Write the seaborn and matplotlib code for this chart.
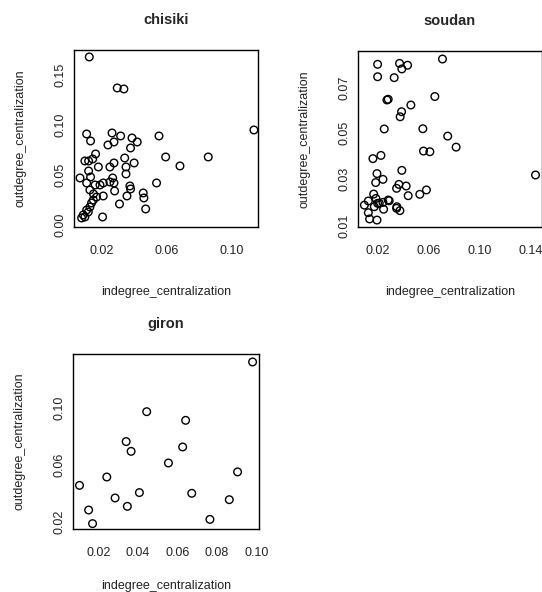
import numpy as np
import pandas as pd
import seaborn as sns
from matplotlib import pyplot as plt

# values
chisiki_x = [0.0124, 0.0296, 0.0337, 0.1137, 0.0108, 0.0132, 0.0264, 0.0317, 0.0276, 0.0239,
             0.0387, 0.0419, 0.0378, 0.0553, 0.0097, 0.0120, 0.0145, 0.0163, 0.0180, 0.0276,
             0.0251, 0.0342, 0.0350, 0.0350, 0.0400, 0.0594, 0.0682, 0.0856, 0.0067, 0.0120,
             0.0132, 0.0108, 0.0128, 0.0160, 0.0190, 0.0210, 0.0251, 0.0268, 0.0276, 0.0280,
             0.0210, 0.0150, 0.0374, 0.0378, 0.0356, 0.0310, 0.0456, 0.0460, 0.0471, 0.0538,
             0.0206, 0.0077, 0.0087, 0.0108, 0.0128, 0.0149, 0.0138, 0.0118, 0.0169, 0.0097]
chisiki_y = [0.168, 0.137, 0.136, 0.095, 0.091, 0.084, 0.092, 0.089, 0.083, 0.080,
             0.087, 0.083, 0.077, 0.089, 0.064, 0.064, 0.066, 0.071, 0.058, 0.062,
             0.058, 0.067, 0.058, 0.051, 0.062, 0.068, 0.059, 0.068, 0.047, 0.054,
             0.048, 0.042, 0.035, 0.040, 0.040, 0.042, 0.043, 0.047, 0.042, 0.034,
             0.029, 0.031, 0.039, 0.036, 0.029, 0.021, 0.032, 0.027, 0.016, 0.042,
             0.008, 0.007, 0.010, 0.015, 0.018, 0.025, 0.022, 0.013, 0.028, 0.008]

soudan_x = [0.0200, 0.0372, 0.0390, 0.0435, 0.0709, 0.0200, 0.0330, 0.0273, 0.0283, 0.0461,
            0.0388, 0.0377, 0.0649, 0.0252, 0.0555, 0.0750, 0.0816, 0.0560, 0.0610, 0.0163,
            0.0226, 0.0390, 0.0195, 0.0185, 0.0242, 0.0349, 0.0367, 0.0424, 0.0440, 0.0531,
            0.0583, 0.1439, 0.0169, 0.0187, 0.0200, 0.0213, 0.0242, 0.0291, 0.0283, 0.0127,
            0.0096, 0.0127, 0.0137, 0.0195, 0.0247, 0.0349, 0.0375, 0.0351, 0.0174]
soudan_y = [0.0800, 0.0804, 0.0780, 0.0796, 0.0823, 0.0746, 0.0742, 0.0645, 0.0648, 0.0623,
            0.0594, 0.0572, 0.0660, 0.0519, 0.0520, 0.0488, 0.0440, 0.0423, 0.0420, 0.0390,
            0.0404, 0.0339, 0.0325, 0.0286, 0.0300, 0.0261, 0.0278, 0.0271, 0.0229, 0.0235,
            0.0254, 0.0319, 0.0236, 0.0217, 0.0196, 0.0196, 0.0200, 0.0207, 0.0210, 0.0206,
            0.0188, 0.0155, 0.0128, 0.0123, 0.0170, 0.0174, 0.0164, 0.0181, 0.0181]

giron_x = [0.0980, 0.0444, 0.0641, 0.0340, 0.0365, 0.0626, 0.0554, 0.0904, 0.0242,
           0.0104, 0.0407, 0.0672, 0.0284, 0.0862, 0.0346, 0.0150, 0.0170, 0.0764]
giron_y = [0.1327, 0.0976, 0.0915, 0.0765, 0.0696, 0.0727, 0.0614, 0.0551, 0.0515,
           0.0456, 0.0405, 0.0400, 0.0367, 0.0355, 0.0308, 0.0282, 0.0186, 0.0216]

sns.set_style("white")
plt.rcParams['font.family'] = ['Liberation Sans', 'DejaVu Sans']

fig = plt.figure(figsize=(5.42, 5.92), dpi=100)

panels = [
    ("chisiki", chisiki_x, chisiki_y, [0.1365, 0.6166, 0.3395, 0.299],
     (0.003, 0.1162), (-0.002, 0.175),
     [0.02, 0.04, 0.06, 0.08, 0.10], [0.02, 0.06, 0.10],
     [0.00, 0.05, 0.10, 0.15], [0.00, 0.05, 0.10, 0.15], 21),
    ("soudan", soudan_x, soudan_y, [0.6605, 0.6166, 0.3395, 0.2973],
     (0.0046, 0.149), (0.0093, 0.0858),
     [0.02, 0.04, 0.06, 0.08, 0.10, 0.12, 0.14], [0.02, 0.06, 0.10, 0.14],
     [0.01, 0.02, 0.03, 0.04, 0.05, 0.06, 0.07, 0.08], [0.01, 0.03, 0.05, 0.07], 21),
    ("giron", giron_x, giron_y, [0.1347, 0.1064, 0.343, 0.2956],
     (0.0071, 0.1012), (0.0148, 0.1383),
     [0.02, 0.04, 0.06, 0.08, 0.10], [0.02, 0.04, 0.06, 0.08, 0.10],
     [0.02, 0.04, 0.06, 0.08, 0.10, 0.12], [0.02, 0.06, 0.10], 15),
]

for name, xs, ys, rect, xlim, ylim, xt, xl, yt, yl, xpad in panels:
    ax = fig.add_axes(rect)
    df = pd.DataFrame({'indegree_centralization': xs, 'outdegree_centralization': ys})
    sns.scatterplot(data=df, x='indegree_centralization', y='outdegree_centralization', ax=ax,
                    marker='o', s=30, facecolor='none', edgecolor='black', linewidth=1.0)
    ax.set_xlim(*xlim)
    ax.set_ylim(*ylim)
    ax.set_xticks(xt)
    ax.set_xticklabels([f"{v:.2f}" if round(v, 3) in [round(l, 3) for l in xl] else "" for v in xt])
    ax.set_yticks(yt)
    ax.set_yticklabels([f"{v:.2f}" if round(v, 3) in [round(l, 3) for l in yl] else "" for v in yt],
                       rotation=90, va='center')
    ax.tick_params(axis='both', direction='out', length=5, width=0.8, color='black',
                   labelsize=9, labelcolor='#222222')
    ax.tick_params(axis='x', pad=8)
    ax.tick_params(axis='y', pad=0.5)
    for sp in ax.spines.values():
        sp.set_visible(True)
        sp.set_color('black')
        sp.set_linewidth(1.0)
    ax.set_xlabel('indegree_centralization', fontsize=9, color='#222222', labelpad=xpad)
    ax.set_ylabel('outdegree_centralization', fontsize=9, color='#222222', labelpad=20)
    ax.set_title(name, fontsize=10.5, fontweight='bold', pad=19)

fig.savefig('out.png', dpi=100)
